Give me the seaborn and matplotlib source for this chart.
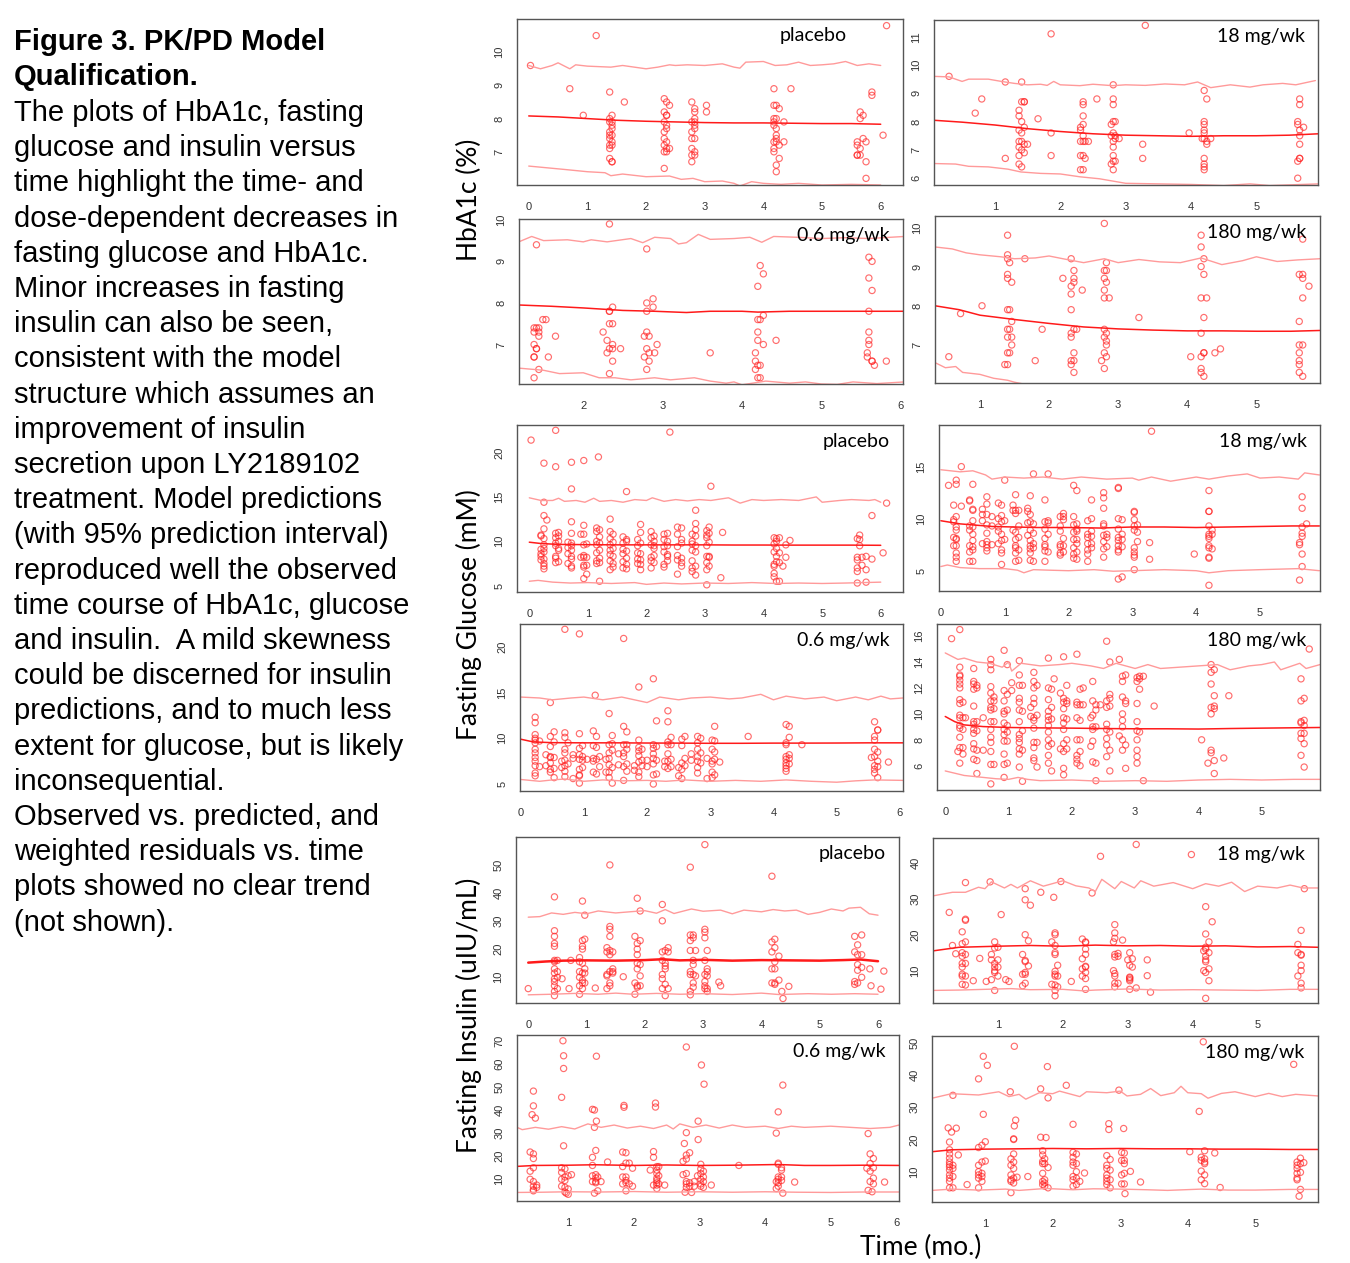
import pandas as pd
import matplotlib
matplotlib.use("Agg")
import matplotlib.pyplot as plt
import seaborn as sns

sns.set_style("white")
plt.rcParams['font.family'] = ['Liberation Sans', 'DejaVu Sans']

# ---------------- data: observed (visit time, [values]) and model lines (time, value) ----------------
# HbA1c placebo
a1c_pbo_obs = [(0.03, [9.6]), (0.7, [8.9]), (0.93, [8.1]), (1.15, [10.5]),
               (1.38, [8.8, 8.0, 7.9, 7.6, 7.5, 7.4, 7.2, 7.1, 6.8]),
               (1.42, [8.1, 7.9, 7.8, 7.7, 7.5, 7.3, 7.2, 6.7, 6.7]),
               (1.63, [8.5]),
               (2.31, [8.6, 8.2, 7.9, 7.6, 7.4, 7.2, 7.0, 6.5]),
               (2.35, [8.5, 8.1, 8.1, 7.8, 7.7, 7.3, 7.1, 7.0]),
               (2.4, [8.4, 7.1]),
               (2.78, [8.5, 7.9, 7.6, 7.4, 7.1, 6.9, 6.7]),
               (2.83, [8.3, 8.2, 8.0, 7.9, 7.8, 7.7, 7.4, 7.0, 6.9]),
               (3.03, [8.4, 8.2]),
               (4.18, [8.9, 8.4, 8.0, 7.9, 7.8, 7.3, 7.1, 7.0]),
               (4.22, [8.4, 8.0, 7.7, 7.5, 7.4, 7.3, 6.6, 6.4]),
               (4.27, [8.3, 7.2, 6.8]), (4.35, [7.9, 7.3]), (4.47, [8.9]),
               (5.6, [7.3, 7.2, 6.9, 6.9]), (5.65, [8.2, 8.0, 7.1, 6.9]),
               (5.7, [8.1, 7.4]), (5.75, [7.3, 6.7, 6.2]),
               (5.85, [8.8, 8.7]), (6.04, [7.5]), (6.1, [10.8])]
a1c_pbo_up = [(0.0, 9.6), (0.2, 9.5), (0.4, 9.6), (0.5, 9.68), (0.7, 9.5), (0.8, 9.62), (1.0, 9.58),
              (1.4, 9.55), (1.6, 9.6), (2.0, 9.5), (2.2, 9.55), (2.4, 9.62), (2.5, 9.6), (2.7, 9.62),
              (3.0, 9.6), (3.3, 9.65), (3.5, 9.55), (3.6, 9.52), (3.7, 9.7), (4.0, 9.72), (4.2, 9.6),
              (4.4, 9.62), (4.6, 9.7), (4.8, 9.6), (5.0, 9.62), (5.2, 9.65), (5.4, 9.72), (5.6, 9.6),
              (5.8, 9.65), (6.0, 9.6)]
a1c_pbo_mid = [(0.0, 8.08), (0.5, 8.05), (1.0, 8.0), (1.5, 7.95), (2.0, 7.92), (2.5, 7.9),
               (3.0, 7.88), (3.5, 7.87), (4.0, 7.87), (4.5, 7.86), (5.0, 7.85), (5.5, 7.85), (6.0, 7.83)]
a1c_pbo_lo = [(0.0, 6.57), (0.3, 6.52), (0.6, 6.47), (1.0, 6.4), (1.3, 6.37), (1.4, 6.28), (1.6, 6.33),
              (2.0, 6.25), (2.4, 6.27), (2.6, 6.17), (2.8, 6.2), (3.0, 6.1), (3.3, 6.12), (3.5, 6.05),
              (3.6, 5.97), (3.8, 6.1), (4.0, 6.05), (4.3, 6.02), (4.6, 6.05), (5.0, 6.0), (5.5, 6.02),
              (6.0, 6.0)]

# HbA1c 18 mg/wk
a1c_18_obs = [(0.3, [9.6]), (0.7, [8.3]), (0.8, [8.8]), (1.16, [9.4, 6.7]),
              (1.37, [8.4, 8.2, 7.7, 7.3, 7.1, 6.8, 6.5]),
              (1.41, [9.4, 8.7, 8.0, 7.6, 7.3, 7.0, 6.4]),
              (1.45, [8.7, 8.7, 7.8, 7.2, 6.9]), (1.5, [7.2]), (1.66, [8.1]),
              (1.86, [11.1, 7.6, 6.8]),
              (2.31, [7.8, 7.7, 7.3, 6.8, 6.3]), (2.35, [8.7, 8.6, 8.2, 7.9, 7.5, 7.3, 6.8, 6.3]),
              (2.38, [7.3, 6.7]), (2.43, [7.3]), (2.56, [8.8]),
              (2.78, [7.9, 7.5, 6.5]), (2.81, [9.3, 8.8, 8.6, 8.0, 7.6, 7.3, 7.1, 6.8, 6.6, 6.3]),
              (2.84, [8.0, 7.5, 7.4, 6.6]), (2.9, [7.4]),
              (3.26, [7.2, 6.7]), (3.3, [11.4]), (3.97, [7.6]),
              (4.17, [7.4]), (4.2, [9.1, 8.0, 7.9, 7.7, 7.6, 7.4, 6.7, 6.5, 6.4, 6.3]),
              (4.24, [8.8, 7.3, 7.2]), (4.3, [7.4]),
              (5.63, [8.0, 7.9, 6.6, 6.0]), (5.66, [8.8, 8.6, 7.7, 7.5, 7.2, 6.7, 6.7]), (5.72, [7.8])]
a1c_18_up = [(0.05, 9.6), (0.3, 9.58), (0.5, 9.42), (0.6, 9.5), (0.9, 9.5), (1.1, 9.42), (1.3, 9.35),
             (1.5, 9.3), (1.7, 9.32), (1.8, 9.28), (1.9, 9.42), (2.0, 9.3), (2.3, 9.27), (2.5, 9.32),
             (2.8, 9.27), (3.0, 9.3), (3.3, 9.28), (3.6, 9.33), (3.9, 9.3), (4.1, 9.4), (4.3, 9.2),
             (4.6, 9.3), (4.9, 9.22), (5.1, 9.3), (5.4, 9.35), (5.6, 9.3), (5.9, 9.45)]
a1c_18_mid = [(0.05, 8.05), (0.5, 7.98), (1.0, 7.88), (1.5, 7.75), (2.0, 7.65), (2.5, 7.57),
              (3.0, 7.52), (3.5, 7.5), (4.0, 7.48), (4.5, 7.5), (5.0, 7.5), (5.5, 7.52), (5.95, 7.57)]
a1c_18_lo = [(0.05, 6.52), (0.4, 6.5), (0.6, 6.42), (0.9, 6.4), (1.2, 6.32), (1.4, 6.22), (1.7, 6.17),
             (2.0, 6.15), (2.3, 6.05), (2.6, 5.98), (2.8, 5.9), (3.0, 5.82), (3.5, 5.8), (4.0, 5.78),
             (4.5, 5.74), (4.9, 5.8), (5.2, 5.74), (5.95, 5.8)]

# HbA1c 0.6 mg/wk
a1c_06_obs = [(1.38, [7.4, 7.3, 7.0, 6.7, 6.7, 6.2]), (1.41, [9.4, 7.4, 6.9, 6.9]),
              (1.44, [7.4, 7.3, 7.2, 6.4]), (1.49, [7.6]), (1.53, [7.6]), (1.56, [6.7]), (1.65, [7.2]),
              (2.25, [7.3]), (2.3, [7.1, 6.8]), (2.33, [9.9, 7.8, 7.8, 7.5, 6.9, 6.3]),
              (2.37, [7.9, 7.5, 7.0, 6.9, 6.6]), (2.47, [6.9]),
              (2.77, [7.2, 6.7]), (2.8, [9.3, 8.0, 7.8, 7.3, 6.9, 6.4]), (2.83, [7.2, 6.8, 6.6]),
              (2.88, [8.1, 7.9]), (2.9, [6.8]), (2.93, [7.0]), (3.6, [6.8]),
              (4.17, [6.8, 6.6, 6.4]), (4.2, [8.4, 7.6, 7.3, 7.1, 6.5, 6.2]),
              (4.23, [8.9, 7.6, 6.5, 6.2]), (4.27, [8.7, 7.7, 7.0]), (4.43, [7.1]),
              (5.58, [6.8, 6.7]), (5.6, [9.1, 8.6, 7.8, 7.3, 7.1, 7.0]), (5.64, [9.0, 8.3, 6.6, 6.6]),
              (5.67, [6.5]), (5.82, [6.6])]
a1c_06_up = [(1.2, 9.48), (1.35, 9.6), (1.5, 9.5), (1.8, 9.52), (2.0, 9.47), (2.1, 9.52), (2.3, 9.47),
             (2.6, 9.55), (2.75, 9.45), (2.9, 9.58), (3.1, 9.55), (3.2, 9.42), (3.3, 9.45),
             (3.45, 9.65), (3.6, 9.53), (3.9, 9.55), (4.1, 9.58), (4.25, 9.46), (4.4, 9.6),
             (4.7, 9.58), (5.0, 9.55), (5.3, 9.57), (5.6, 9.55), (6.05, 9.6)]
a1c_06_mid = [(1.2, 7.95), (1.6, 7.92), (2.0, 7.88), (2.5, 7.82), (2.9, 7.8), (3.3, 7.77),
              (3.6, 7.8), (4.0, 7.8), (4.2, 7.78), (4.6, 7.8), (5.0, 7.8), (5.5, 7.8), (6.05, 7.8)]
a1c_06_lo = [(1.2, 6.43), (1.5, 6.38), (1.7, 6.3), (2.0, 6.32), (2.2, 6.2), (2.4, 6.2), (2.6, 6.15),
             (2.9, 6.2), (3.1, 6.15), (3.4, 6.2), (3.6, 6.12), (3.8, 6.07), (3.9, 6.1), (4.0, 6.03),
             (4.3, 6.12), (4.6, 6.07), (4.8, 6.1), (5.0, 6.05), (5.2, 6.04), (5.4, 6.1), (5.7, 6.06),
             (6.05, 6.1)]

# HbA1c 180 mg/wk
a1c_180_obs = [(0.55, [6.7]), (0.72, [7.8]), (1.03, [8.0]), (1.36, [6.5]),
               (1.4, [9.8, 9.3, 9.2, 8.8, 8.7, 7.9, 7.4, 7.2, 6.8, 6.5]),
               (1.43, [9.1, 7.9, 7.4, 6.8]), (1.46, [8.6, 7.6, 7.2, 7.0]),
               (1.65, [9.2]), (1.8, [6.6]), (1.9, [7.4]), (2.2, [8.7]),
               (2.32, [9.2, 8.5, 8.3, 7.9, 7.3, 7.2, 6.6, 6.5]),
               (2.36, [8.9, 8.7, 8.6, 7.4, 6.8, 6.6, 6.3]), (2.4, [7.4]), (2.48, [8.4]),
               (2.76, [6.6]), (2.8, [10.1, 8.9, 8.7, 8.4, 8.2, 7.4, 7.2, 6.8, 6.4]),
               (2.83, [9.1, 8.9, 8.6, 7.3, 7.1, 7.0, 6.7]), (2.87, [8.2]), (3.3, [7.7]),
               (4.05, [6.7]), (4.2, [9.8, 9.5, 9.0, 8.2, 7.3, 6.7, 6.4, 6.3]),
               (4.24, [9.2, 8.8, 7.7, 6.8, 6.8, 6.2]), (4.28, [8.2]), (4.4, [6.8]), (4.48, [6.9]),
               (5.62, [8.8, 7.6, 7.0, 6.8, 6.6, 6.5, 6.3]), (5.67, [9.7, 8.8, 8.7, 8.2, 7.0, 6.2]),
               (5.76, [8.5])]
a1c_180_up = [(0.35, 9.5), (0.6, 9.45), (0.8, 9.35), (1.0, 9.3), (1.3, 9.25), (1.5, 9.2), (1.8, 9.22),
              (2.0, 9.27), (2.2, 9.2), (2.5, 9.1), (2.8, 9.2), (3.0, 9.1), (3.3, 9.18), (3.6, 9.12),
              (3.9, 9.1), (4.2, 9.22), (4.5, 9.05), (4.8, 9.15), (5.0, 9.25), (5.3, 9.13),
              (5.6, 9.17), (5.92, 9.2)]
a1c_180_mid = [(0.35, 8.0), (0.7, 7.9), (1.0, 7.76), (1.5, 7.65), (2.0, 7.55), (2.5, 7.46),
               (3.0, 7.41), (3.5, 7.38), (4.0, 7.36), (4.5, 7.36), (5.0, 7.35), (5.5, 7.35), (5.92, 7.37)]
a1c_180_lo = [(0.35, 6.55), (0.5, 6.42), (0.65, 6.45), (0.75, 6.3), (1.0, 6.25), (1.2, 6.15),
              (1.4, 6.1), (1.5, 6.05), (1.7, 5.98), (2.5, 5.9), (4.0, 5.9), (5.92, 5.9)]

# Fasting glucose placebo
glu_pbo_obs = [(0.03, [21.4]), (0.2, [10.7, 10.6, 9.1, 8.6, 8.3, 7.9]),
               (0.25, [18.8, 14.4, 12.9, 11.4, 10.3, 9.6, 9.2, 8.8, 8.0, 7.5, 7.2, 6.9]), (0.3, [12.4]),
               (0.45, [22.5, 18.4, 10.9, 10.4, 9.8, 9.5, 8.3, 8.1, 7.6]),
               (0.5, [11.0, 10.6, 10.0, 9.2, 9.0, 7.7]), (0.66, [9.9, 9.3, 8.6, 7.5]),
               (0.72, [18.9, 15.9, 12.2, 10.9, 9.8, 9.5, 9.0, 8.3, 8.0, 7.2, 7.0]), (0.88, [10.8, 8.2]),
               (0.93, [19.1, 11.8, 10.8, 9.6, 8.4, 8.2, 7.3, 7.1, 5.8]), (0.98, [9.7, 8.2, 7.3, 6.3]),
               (1.15, [11.5, 11.1, 10.0, 9.6, 8.7, 7.8, 7.5]),
               (1.18, [19.5]), (1.2, [11.3, 10.5, 9.8, 9.0, 8.1, 7.6, 5.5]),
               (1.38, [12.5, 11.1, 10.3, 9.6, 9.0, 8.5, 7.8, 6.8]), (1.43, [10.8, 9.9, 9.2, 8.3, 7.5, 7.1]),
               (1.6, [10.5, 9.8, 9.1, 8.6, 7.7, 7.0]), (1.66, [15.6, 10.2, 10.0, 8.9, 8.1, 7.4, 6.9]),
               (1.85, [10.2, 9.5, 8.7, 8.0, 7.5]), (1.9, [11.9, 11.0, 9.8, 8.6, 7.9, 7.4, 6.8]),
               (2.08, [11.1, 10.4, 9.6, 8.2, 7.8, 7.0]), (2.13, [10.6, 10.0, 9.5, 9.2, 8.4, 7.6]),
               (2.3, [10.8, 10.2, 9.4, 8.8, 7.4, 7.1]), (2.36, [10.9, 10.0, 9.5, 8.5, 8.3, 7.8]),
               (2.4, [22.3]), (2.53, [11.6, 10.8, 9.4, 8.4, 7.9, 6.3]), (2.6, [11.5, 10.2, 9.8, 8.1, 7.6, 7.2]),
               (2.78, [10.8, 10.0, 9.7, 9.0, 7.8, 7.0, 6.6]),
               (2.84, [13.5, 12.0, 11.3, 10.6, 9.5, 8.8, 7.2, 6.2]),
               (3.03, [11.2, 10.7, 10.4, 9.5, 8.3, 7.6, 6.8, 5.1]), (3.07, [11.6, 10.9, 9.9, 8.3, 8.2, 7.2]),
               (3.1, [16.2]), (3.27, [5.9]), (3.3, [11.0]),
               (4.18, [10.4, 9.7, 8.8, 7.4, 7.2, 6.4, 6.0]), (4.22, [10.3, 10.0, 9.2, 8.3, 7.7, 5.5]),
               (4.27, [10.4, 8.7, 7.6, 5.5]), (4.33, [7.2]), (4.38, [9.6, 8.2]), (4.45, [10.1]),
               (5.6, [10.3, 8.2, 7.9, 7.0, 6.6, 5.3]), (5.64, [10.2, 9.5, 10.7]), (5.68, [8.2, 7.3]),
               (5.75, [8.3, 6.8, 5.4]), (5.85, [8.0, 12.9]), (6.04, [8.7]), (6.1, [14.3])]
glu_pbo_up = [(0.0, 14.9), (0.2, 14.6), (0.4, 14.6), (0.5, 14.85), (0.6, 14.5), (0.8, 14.6),
              (0.95, 14.4), (1.1, 14.85), (1.2, 14.5), (1.4, 14.6), (1.6, 14.4), (1.8, 14.7),
              (2.0, 14.6), (2.1, 14.9), (2.3, 14.5), (2.5, 14.7), (2.7, 14.55), (2.9, 14.7),
              (3.1, 14.6), (3.4, 14.9), (3.6, 14.3), (3.8, 14.7), (4.0, 14.6), (4.3, 14.7),
              (4.6, 14.6), (4.9, 15.0), (5.0, 14.4), (5.3, 14.6), (5.5, 14.7), (5.8, 14.6),
              (5.9, 14.7), (6.0, 14.4)]
glu_pbo_mid = [(0.0, 9.9), (0.2, 9.75), (0.5, 9.65), (1.0, 9.62), (1.5, 9.6), (2.0, 9.6), (2.5, 9.6),
               (3.0, 9.6), (3.5, 9.58), (4.0, 9.58), (4.5, 9.57), (5.0, 9.57), (5.5, 9.57), (6.0, 9.55)]
glu_pbo_lo = [(0.0, 5.5), (0.15, 5.6), (0.4, 5.4), (0.7, 5.3), (1.0, 5.35), (1.4, 5.25), (1.8, 5.35),
              (2.0, 5.15), (2.3, 5.3), (2.6, 5.2), (3.0, 5.3), (3.4, 5.25), (3.8, 5.35), (4.2, 5.25),
              (4.6, 5.3), (5.0, 5.25), (5.4, 5.3), (6.0, 5.4)]

# Fasting glucose 18 mg/wk
glu_18_obs = [(0.12, [13.2]), (0.2, [11.3, 9.9, 9.7, 8.2, 7.4]),
              (0.24, [13.7, 13.3, 10.2, 9.2, 8.9, 8.1, 8.0, 7.4, 6.7, 6.3, 5.9]), (0.32, [15.0, 11.2]),
              (0.45, [11.8, 11.7, 9.3, 8.9, 7.4, 6.8, 5.9]),
              (0.5, [13.3, 10.9, 10.8, 9.8, 9.2, 8.5, 7.9, 7.3, 7.0, 5.9]),
              (0.65, [10.9, 10.4, 9.8, 7.6]), (0.72, [12.1, 11.4, 10.4, 9.4, 8.6, 7.8, 7.5, 7.2, 6.9]),
              (0.8, [10.2, 9.3, 7.5]), (0.9, [11.5, 10.0, 9.2, 8.8, 7.6]),
              (0.95, [11.3, 10.3, 9.7, 8.5, 7.9, 7.0, 6.7, 5.6]), (1.0, [13.7, 9.8, 8.0]),
              (1.13, [11.3, 10.8, 8.9]), (1.17, [12.3, 10.8, 10.5, 8.7, 8.0, 7.4, 7.2, 6.7, 5.9]),
              (1.22, [10.8, 9.3, 8.2, 7.0, 6.0]), (1.36, [11.0, 10.7, 9.6, 8.4]),
              (1.4, [12.2, 10.4, 9.7, 8.9, 7.9, 7.4, 7.1, 6.7, 6.0]), (1.45, [14.3, 9.5, 8.6, 7.6, 7.2, 5.9]),
              (1.63, [11.8, 9.7, 9.0, 8.1, 7.5, 7.3, 6.9, 5.9]), (1.68, [14.3, 9.8, 9.6, 8.5, 6.8]),
              (1.87, [10.2, 9.3, 8.8, 7.5, 7.3, 6.7, 6.5]), (1.92, [10.5, 10.2, 9.9, 8.1, 7.4, 6.8]),
              (2.08, [13.2, 10.2, 9.4, 8.7, 8.0, 7.2, 6.6, 6.2]), (2.13, [12.7, 9.5, 9.0, 8.8, 8.0, 7.6, 6.8, 6.1]),
              (2.3, [9.8, 8.5, 8.2, 7.6, 7.0, 6.6, 5.9]), (2.36, [11.8, 10.0, 8.8, 8.3, 7.6, 7.2]),
              (2.55, [12.5, 12.0, 11.0, 9.5, 9.3, 8.4, 7.8, 7.1, 6.3]), (2.6, [8.5, 8.2, 7.3]),
              (2.78, [13.0, 12.9, 10.0, 9.0, 8.2, 7.9, 7.4, 7.0, 6.8, 4.2]), (2.84, [9.9, 8.5, 8.0, 7.3, 4.4]),
              (3.03, [10.7, 10.6, 9.9, 9.3, 8.9, 7.2, 6.8, 6.5, 6.3, 5.1]), (3.08, [9.4, 8.7, 7.8]),
              (3.27, [7.7, 6.1]), (3.3, [18.4]), (3.97, [6.6]),
              (4.2, [12.7, 10.7, 10.7, 9.3, 8.5, 8.3, 8.1, 7.4, 7.2, 6.3, 6.2, 3.6]), (4.25, [8.9, 8.5, 7.1]),
              (5.62, [7.7, 7.5, 4.1]), (5.66, [12.1, 11.0, 9.2, 8.6, 8.3, 6.6, 5.4]), (5.73, [9.5])]
glu_18_up = [(0.0, 14.7), (0.3, 14.5), (0.5, 14.6), (0.7, 14.2), (0.8, 13.8), (1.0, 14.0), (1.3, 13.9),
             (1.6, 14.0), (1.9, 13.8), (2.2, 14.0), (2.6, 13.8), (3.0, 13.9), (3.1, 13.7), (3.3, 14.0),
             (3.6, 13.6), (4.0, 14.0), (4.2, 13.8), (4.5, 14.1), (4.8, 14.3), (5.0, 13.9), (5.3, 14.0),
             (5.6, 13.8), (5.7, 14.4), (5.93, 14.2)]
glu_18_mid = [(0.0, 9.8), (0.3, 9.5), (0.8, 9.25), (1.5, 9.15), (2.0, 9.15), (2.5, 9.1), (3.0, 9.2),
              (3.5, 9.2), (4.0, 9.15), (4.5, 9.2), (5.0, 9.25), (5.5, 9.3), (5.93, 9.3)]
glu_18_lo = [(0.0, 5.4), (0.1, 5.55), (0.3, 5.3), (0.6, 5.2), (1.0, 5.2), (1.2, 5.05), (1.3, 4.8),
             (1.45, 5.1), (1.7, 5.05), (2.0, 5.0), (2.4, 5.1), (2.7, 4.95), (3.0, 5.0), (3.5, 5.1),
             (4.0, 5.0), (4.2, 4.8), (4.5, 5.0), (5.0, 5.1), (5.6, 5.2), (5.93, 5.0)]

# Fasting glucose 0.6 mg/wk
glu_06_obs = [(0.23, [12.3, 11.7, 10.4, 10.0, 9.8, 9.5, 8.8, 8.4, 7.9, 7.5, 7.0, 6.2, 5.9]),
              (0.3, [9.7, 6.9]), (0.4, [8.2, 7.0]), (0.47, [13.9, 10.2, 9.1, 8.0, 7.9, 7.3, 6.6, 6.3]),
              (0.53, [10.7, 9.6, 7.9, 6.7, 5.7]), (0.65, [6.8, 7.5]),
              (0.7, [21.9, 10.6, 10.1, 8.8, 8.4, 7.6, 7.0, 6.4, 5.8]), (0.75, [9.5, 7.2]),
              (0.83, [7.8, 5.6, 8.2]), (0.93, [21.4, 10.5, 8.9, 8.2, 7.7, 6.6, 6.0, 5.9, 5.1]),
              (0.98, [9.2, 8.0, 7.6, 6.8]), (1.05, [7.7]),
              (1.15, [10.8, 9.2, 7.8, 7.5, 6.3]), (1.18, [14.7]), (1.2, [10.2, 9.0, 7.7, 6.1]), (1.25, [8.0, 6.9]),
              (1.35, [6.3, 7.7]), (1.4, [12.7, 9.3, 8.4, 7.8, 7.1, 6.3, 5.7]), (1.45, [10.3, 9.4, 8.7, 6.8, 5.1]),
              (1.55, [8.3, 7.1]), (1.63, [20.9, 11.3, 9.3, 8.4, 8.0, 6.9, 5.4]), (1.68, [10.7, 9.3, 8.8, 7.2, 6.4]),
              (1.8, [7.0, 6.5]), (1.87, [15.6, 9.8, 9.0, 8.6, 8.1, 7.4, 6.3, 5.8]), (1.92, [8.8, 7.6, 7.0]),
              (2.0, [6.9, 7.6]), (2.1, [16.5, 9.3, 8.9, 8.3, 7.8, 7.2, 6.0, 5.0]), (2.15, [11.9, 9.1, 7.6, 6.1]),
              (2.28, [6.9, 7.5]), (2.33, [13.0, 11.8, 9.6, 9.3, 8.3, 7.5, 6.7]), (2.38, [10.1, 9.3, 7.7, 6.9]),
              (2.5, [6.8, 5.9]), (2.55, [9.9, 9.2, 7.3, 6.6, 5.6]), (2.6, [10.2, 7.8, 7.0]), (2.7, [8.3, 7.6]),
              (2.8, [10.2, 9.5, 8.8, 8.0, 7.5, 6.8, 6.2]), (2.85, [10.0, 8.4, 7.3]), (2.95, [7.8, 5.6]),
              (3.03, [9.8, 8.8, 7.5, 7.2, 6.3, 5.7]), (3.07, [11.3, 9.7, 8.5, 7.7, 6.0]), (3.15, [7.4]),
              (3.6, [10.2]), (4.2, [11.5, 9.5, 9.3, 8.0, 7.7, 7.3, 7.0, 6.7, 6.4]),
              (4.25, [11.3, 10.1, 8.2, 7.8, 7.2]), (4.45, [9.3]), (5.55, [7.9]),
              (5.6, [11.8, 10.2, 9.8, 8.8, 8.0, 7.0, 6.6, 6.2]), (5.65, [10.9, 10.9, 8.5, 7.5, 6.9, 5.7]),
              (5.82, [7.4])]
glu_06_up = [(0.0, 14.5), (0.3, 14.4), (0.5, 14.2), (0.8, 14.4), (1.0, 14.5), (1.3, 14.2), (1.6, 14.5),
             (1.8, 14.2), (2.0, 13.9), (2.2, 14.5), (2.5, 14.2), (2.7, 14.4), (3.0, 14.5), (3.3, 14.3),
             (3.5, 14.4), (3.8, 14.8), (4.0, 14.2), (4.2, 14.6), (4.5, 14.3), (4.8, 14.5), (5.0, 14.1),
             (5.3, 14.5), (5.5, 14.2), (5.7, 14.6), (5.85, 14.3), (6.05, 14.4)]
glu_06_mid = [(0.0, 9.9), (0.2, 9.6), (0.5, 9.52), (1.0, 9.5), (1.5, 9.5), (2.0, 9.48), (2.5, 9.47),
              (3.0, 9.45), (3.5, 9.45), (4.0, 9.47), (4.5, 9.47), (5.0, 9.48), (5.5, 9.5), (6.05, 9.5)]
glu_06_lo = [(0.0, 5.5), (0.3, 5.3), (0.5, 5.45), (0.7, 5.55), (1.0, 5.3), (1.3, 5.45), (1.6, 5.35),
             (2.0, 5.4), (2.3, 5.3), (2.6, 5.45), (3.0, 5.3), (3.4, 5.4), (3.8, 5.3), (4.2, 5.45),
             (4.6, 5.3), (5.0, 5.2), (5.3, 5.35), (5.6, 5.45), (6.05, 5.4)]

# Fasting glucose 180 mg/wk
glu_180_obs = [(0.1, [15.8]), (0.2, [7.1]),
               (0.23, [16.5, 13.6, 13.0, 12.9, 12.6, 12.3, 12.0, 11.1, 10.8, 9.9, 9.7, 9.1, 8.9, 8.2, 7.4, 6.2]),
               (0.28, [10.9, 9.7, 8.8, 7.4, 6.9]), (0.32, [9.7]),
               (0.45, [13.5, 12.5, 12.3, 11.9, 10.6, 9.4, 9.2, 8.8, 8.5, 7.7, 7.3, 6.5]),
               (0.5, [12.2, 12.0, 9.4, 8.7, 7.2, 6.4, 5.4]), (0.6, [9.7, 7.2]),
               (0.72, [14.2, 13.8, 13.4, 12.1, 11.6, 11.0, 10.5, 10.3, 9.4, 8.8, 8.2, 7.8, 7.1, 6.1, 4.6]),
               (0.77, [11.3, 11.0, 10.4, 9.4, 6.1]),
               (0.93, [14.9, 11.8, 11.0, 10.2, 10.0, 9.3, 8.8, 8.4, 7.9, 6.9, 6.1, 5.1]),
               (0.98, [13.8, 11.5, 10.3, 9.1, 8.6, 7.9, 6.2]), (1.05, [12.4, 11.8]),
               (1.17, [14.1, 13.0, 12.2, 11.2, 10.9, 10.3, 9.4, 8.4, 8.1, 7.8, 7.3, 6.9, 5.9]),
               (1.22, [12.2, 10.2, 8.7, 7.2, 4.8]), (1.35, [10.5, 9.8]),
               (1.4, [13.2, 12.5, 12.0, 11.2, 10.8, 9.7, 9.5, 8.9, 7.8, 7.4, 6.6, 6.4]),
               (1.45, [12.2, 9.9, 7.8, 5.9]),
               (1.63, [14.3, 12.0, 11.1, 10.2, 9.8, 9.5, 9.1, 8.6, 8.0, 7.5, 6.8, 6.2]),
               (1.68, [11.9, 10.5, 9.6, 7.7, 5.6]), (1.72, [12.7]), (1.82, [11.6, 7.3]),
               (1.87, [14.4, 11.2, 10.9, 10.4, 9.7, 9.3, 8.8, 7.7, 7.1, 5.8, 5.3]),
               (1.92, [12.2, 11.0, 10.8, 9.6, 8.0, 7.3]),
               (2.08, [14.6, 10.9, 10.7, 9.7, 8.0, 6.8, 6.5, 6.2]), (2.13, [11.9, 10.7, 9.5, 8.0, 7.1, 6.0]),
               (2.18, [12.0, 10.7]), (2.3, [9.7, 7.5]), (2.33, [12.5, 11.0, 9.9, 9.0, 8.8, 7.9, 6.3]),
               (2.38, [10.7, 10.3, 9.0, 6.2, 4.85]), (2.45, [10.7]),
               (2.55, [15.6, 11.0, 10.5, 9.2, 8.8, 8.1, 7.6, 6.7]), (2.6, [14.0, 11.5, 11.2, 10.6, 8.6, 7.2, 5.6]),
               (2.75, [14.2, 8.3]), (2.8, [12.9, 12.5, 11.3, 10.0, 9.5, 9.0, 8.0, 7.2]),
               (2.85, [13.0, 11.0, 10.8, 7.6, 5.8]),
               (3.03, [12.8, 12.5, 10.8, 9.4, 8.7, 8.0, 7.2, 6.7, 6.2]), (3.07, [12.9, 12.7, 11.9, 8.6]),
               (3.13, [12.9, 4.85]), (3.3, [10.6]), (4.05, [8.0]), (4.15, [6.2]),
               (4.2, [13.8, 13.2, 12.3, 10.5, 10.0, 7.2, 7.0]), (4.25, [13.4, 11.4, 10.6, 10.4, 6.4, 5.4]),
               (4.4, [6.6]), (4.48, [11.4]),
               (5.62, [12.7, 11.0, 9.4, 9.3, 8.5, 8.1, 6.8]), (5.67, [11.2, 9.5, 9.1, 8.5, 7.7, 5.9]),
               (5.75, [15.0])]
glu_180_up = [(0.0, 14.7), (0.2, 14.2), (0.3, 14.3), (0.5, 14.0), (0.7, 13.9), (0.9, 13.6), (1.0, 14.0),
              (1.05, 13.3), (1.2, 13.9), (1.5, 13.7), (1.8, 13.8), (2.0, 13.9), (2.3, 13.7), (2.5, 13.5),
              (2.7, 13.9), (3.0, 13.5), (3.2, 13.8), (3.4, 13.5), (3.7, 13.6), (4.0, 13.7), (4.3, 13.8),
              (4.5, 13.4), (4.8, 13.7), (5.0, 13.8), (5.2, 14.0), (5.3, 13.4), (5.6, 13.9), (5.7, 13.5),
              (5.92, 13.8)]
glu_180_mid = [(0.0, 9.8), (0.15, 9.4), (0.3, 9.15), (0.6, 9.02), (1.0, 8.95), (1.5, 8.92), (2.0, 8.9),
               (2.5, 8.87), (3.0, 8.85), (3.5, 8.85), (4.0, 8.83), (4.5, 8.87), (5.0, 8.9), (5.92, 8.95)]
glu_180_lo = [(0.0, 5.6), (0.3, 5.25), (0.5, 5.15), (0.8, 5.0), (1.0, 4.95), (1.15, 5.1), (1.3, 4.95),
              (1.5, 4.85), (2.0, 4.9), (2.5, 4.8), (3.0, 4.85), (3.5, 4.8), (4.0, 4.9), (4.5, 4.95),
              (5.0, 4.9), (5.5, 4.95), (5.92, 4.95)]

# Fasting insulin placebo
ins_pbo_obs = [(0.0, [6.0]), (0.45, [38.5, 26.5, 24.5, 22.0, 21.0, 16.0, 15.5, 13.0, 11.5, 9.5, 8.5, 7.0, 5.0, 3.5]),
               (0.5, [16.0, 12.0, 10.0, 6.0]), (0.58, [9.5]), (0.7, [6.0]), (0.73, [16.0]),
               (0.88, [17.0, 15.5, 12.0, 10.0, 7.0, 4.0]), (0.93, [37.0, 23.0, 21.0, 20.0, 15.0, 11.5, 9.0, 8.0, 6.0]),
               (0.97, [32.0, 23.5, 13.0, 11.5, 8.0]), (1.15, [6.2]),
               (1.35, [20.5, 19.0, 11.0, 10.5, 6.0]), (1.4, [49.8, 28.0, 27.0, 24.5, 19.5, 18.0, 12.0, 8.0, 7.0]),
               (1.45, [19.0, 13.0, 12.0, 11.5]), (1.63, [10.2]),
               (1.83, [24.5, 8.0, 4.0]), (1.87, [38.0, 22.0, 20.0, 18.0, 15.0, 13.0, 7.0, 6.5]),
               (1.92, [33.5, 23.0, 14.5, 10.5, 7.0]),
               (2.3, [35.8, 30.0, 19.0, 16.0, 11.0, 9.5, 6.0]), (2.35, [19.5, 15.0, 14.0, 13.0, 7.5, 3.5]),
               (2.4, [20.5, 19.0, 6.0]),
               (2.78, [49.0, 25.0, 23.0, 19.5, 12.0, 11.0, 5.0, 3.8]), (2.83, [25.0, 24.0, 16.0, 14.5, 11.0, 8.0, 6.5]),
               (2.87, [19.5, 10.5]), (3.03, [57.0, 27.0, 26.0, 24.0, 16.0, 11.0, 8.5, 7.0, 6.0]),
               (3.07, [19.5, 13.0, 12.0, 10.5, 6.0, 5.0]), (3.27, [8.3]), (3.3, [7.0]),
               (4.18, [45.8, 22.5, 19.0, 13.0, 8.0]), (4.23, [23.5, 20.5, 15.5, 13.0, 8.0, 7.5]),
               (4.3, [17.5, 9.0]), (4.35, [5.0]), (4.37, [2.5]), (4.47, [6.8]),
               (5.6, [24.5, 19.0, 8.5, 7.5]), (5.65, [21.5, 18.0, 14.5, 12.5, 8.0]),
               (5.72, [25.0, 18.0, 13.5, 10.0]), (5.86, [13.0]), (5.88, [7.0]), (6.05, [5.8]), (6.1, [12.2])]
ins_pbo_up = [(0.0, 31.3), (0.2, 31.5), (0.4, 32.8), (0.6, 32.3), (0.8, 33.0), (1.0, 32.5), (1.2, 33.5),
              (1.5, 32.8), (1.8, 33.3), (2.0, 33.6), (2.2, 32.7), (2.35, 34.0), (2.5, 32.6), (2.8, 34.2),
              (3.0, 33.4), (3.3, 33.8), (3.5, 32.5), (3.7, 33.8), (4.0, 33.2), (4.2, 34.0), (4.4, 33.5),
              (4.6, 33.8), (4.8, 32.3), (5.0, 33.0), (5.2, 34.2), (5.4, 33.5), (5.5, 34.5), (5.7, 34.8),
              (5.85, 32.5), (6.0, 32.0)]
ins_pbo_mid = [(0.0, 15.2), (0.3, 15.6), (0.6, 15.9), (1.0, 16.0), (1.5, 15.9), (2.0, 16.1), (2.3, 16.4),
               (2.6, 16.0), (3.0, 16.2), (3.5, 15.9), (4.0, 16.1), (4.5, 16.0), (5.0, 15.9), (5.4, 16.1),
               (5.7, 16.3), (6.0, 15.7)]
ins_pbo_lo = [(0.0, 3.8), (0.4, 4.0), (0.8, 4.3), (1.2, 4.0), (1.5, 4.4), (1.8, 4.0), (2.2, 4.3),
              (2.6, 4.0), (3.0, 4.2), (3.5, 3.9), (4.0, 4.4), (4.3, 3.9), (4.8, 4.2), (5.2, 4.0),
              (5.6, 4.2), (6.0, 4.0)]

# Fasting insulin 18 mg/wk
ins_18_obs = [(0.25, [26.2]), (0.3, [17.0]), (0.35, [14.7]),
              (0.45, [20.8, 17.5, 15.0, 14.0, 12.0, 11.0, 9.0, 8.5, 6.2]),
              (0.5, [34.5, 24.3, 24.0, 18.0, 14.5, 12.0, 8.5, 6.0]), (0.62, [7.2]), (0.72, [13.4]), (0.82, [7.0]),
              (0.88, [34.7]), (0.9, [14.5, 13.0, 7.5]), (0.95, [18.0, 16.3, 12.0, 11.0, 10.0, 9.5, 4.5]),
              (1.0, [16.5, 13.0, 11.0, 8.5]), (1.05, [25.6]), (1.12, [7.5]), (1.17, [7.0]),
              (1.38, [14.5, 9.0, 5.8]), (1.42, [32.8, 29.7, 20.0, 12.8, 12.5, 9.5, 9.0, 6.5]),
              (1.47, [18.3, 11.3]), (1.5, [28.2]), (1.66, [31.8]),
              (1.83, [18.0, 6.2]), (1.86, [30.4]), (1.88, [20.5, 20.0, 17.0, 15.0, 14.5, 9.8, 9.0, 8.5, 6.0, 4.5, 3.0]),
              (1.92, [11.5, 8.5, 5.5]), (1.97, [34.8]), (2.13, [7.0]),
              (2.3, [18.8, 13.3, 10.5, 8.5]), (2.35, [18.0, 17.8, 16.0, 14.5, 11.2, 11.0, 9.5, 7.8, 4.8]),
              (2.45, [31.6]), (2.58, [41.8]),
              (2.78, [18.0, 10.0]), (2.8, [22.8, 20.5, 19.0, 14.5, 13.8, 9.2, 8.5, 6.5, 5.5]),
              (2.85, [14.8, 14.0, 6.5]), (2.92, [18.5]), (3.0, [13.0]),
              (3.03, [15.0, 11.5, 8.2, 8.0, 7.6, 7.2, 4.8]), (3.07, [13.3, 11.0]), (3.13, [45.1, 5.2]),
              (3.3, [13.0, 8.6]), (3.35, [4.0]), (3.98, [42.3]),
              (4.17, [15.5, 10.0]), (4.2, [27.8, 20.2, 16.5, 16.0, 14.0, 13.0, 12.5, 9.5, 2.3]),
              (4.25, [18.0, 15.0, 10.5, 7.2]), (4.3, [23.6]),
              (5.62, [17.3, 15.0, 8.5]), (5.67, [21.2, 14.5, 14.3, 11.5, 10.0, 6.5, 5.2]), (5.72, [32.8])]
ins_18_up = [(0.0, 30.8), (0.3, 31.8), (0.5, 31.8), (0.7, 33.2), (0.8, 32.8), (0.9, 34.7), (1.1, 33.0),
             (1.2, 34.0), (1.3, 33.0), (1.5, 35.0), (1.7, 33.5), (2.0, 35.0), (2.2, 33.6), (2.4, 33.0),
             (2.5, 32.0), (2.6, 35.4), (2.8, 32.8), (2.9, 34.8), (3.1, 33.0), (3.2, 35.0), (3.4, 33.5),
             (3.7, 34.5), (4.0, 32.8), (4.2, 34.2), (4.4, 33.5), (4.6, 34.6), (4.8, 32.0), (5.0, 33.5),
             (5.3, 33.0), (5.5, 33.8), (5.7, 33.0), (5.93, 33.0)]
ins_18_mid = [(0.0, 15.5), (0.4, 16.5), (1.0, 16.8), (1.5, 17.0), (2.0, 16.8), (2.5, 17.1), (3.0, 16.9),
              (3.5, 17.0), (4.0, 16.8), (4.5, 16.9), (5.0, 16.6), (5.5, 16.7), (5.93, 16.5)]
ins_18_lo = [(0.0, 4.5), (0.4, 4.6), (0.8, 4.8), (1.2, 5.0), (1.5, 4.7), (2.0, 4.8), (2.3, 4.4),
             (2.5, 4.6), (3.0, 4.9), (3.5, 4.6), (4.0, 4.7), (4.5, 4.6), (5.0, 4.5), (5.5, 4.8), (5.93, 4.8)]

# Fasting insulin 0.6 mg/wk
ins_06_obs = [(0.42, [21.8, 13.5, 10.0]), (0.45, [38.0]), (0.47, [48.2, 41.8, 21.0, 19.0, 15.0, 9.0, 7.0, 5.5, 5.0]),
              (0.5, [36.5]), (0.52, [7.5, 6.5]), (0.9, [45.5, 15.0, 13.0, 10.0, 7.0]),
              (0.92, [70.0]), (0.93, [63.5, 58.0, 24.5]), (0.95, [14.5, 11.0, 9.5, 6.5, 4.5]),
              (0.97, [4.0]), (1.0, [11.5, 5.8, 3.5]), (1.05, [12.0]),
              (1.37, [40.3, 19.5, 16.0, 11.5, 9.0]), (1.4, [40.0, 32.5, 4.0]),
              (1.42, [22.5, 12.0, 10.5, 9.0, 8.5]), (1.43, [63.3, 35.2]), (1.45, [11.0, 5.0]),
              (1.5, [9.0]), (1.6, [17.5]),
              (1.83, [21.8, 15.5, 11.0, 8.0]), (1.85, [42.0, 41.2]), (1.88, [21.5, 17.0, 11.0, 9.5, 8.5, 5.0]),
              (1.93, [17.0, 8.0]), (1.98, [14.8, 7.0]), (2.25, [14.0]),
              (2.3, [22.0, 19.5, 7.5]), (2.33, [43.0, 41.3]), (2.35, [15.5, 14.0, 12.5, 10.5, 9.5, 8.5, 7.5, 6.0]),
              (2.38, [15.5, 11.5, 8.0]), (2.47, [7.5]),
              (2.75, [17.8, 12.0]), (2.77, [25.5]), (2.78, [4.4]), (2.8, [67.3, 30.2, 20.5, 18.8, 12.5, 9.0, 8.0, 6.5]),
              (2.85, [21.5, 8.5, 7.0]), (2.88, [4.3]), (2.92, [9.0, 7.0]), (2.97, [11.5]),
              (2.98, [35.2, 27.2]), (3.02, [16.5, 14.5, 12.5, 10.0, 8.0, 7.0]), (3.03, [59.5]),
              (3.06, [13.5, 11.0, 9.0, 6.5]), (3.07, [51.2]), (3.18, [7.5]), (3.6, [16.0]),
              (4.17, [30.0, 9.0, 6.0]), (4.2, [39.2, 17.0, 16.5, 11.0, 10.0, 8.5, 7.0]),
              (4.25, [15.0, 14.0, 11.0, 9.5]), (4.27, [50.8, 4.0]), (4.45, [8.8]),
              (5.55, [14.8]), (5.57, [29.8, 5.2]), (5.6, [21.0, 16.8, 13.5, 9.0]),
              (5.63, [4.6]), (5.65, [19.0, 15.0, 10.5, 8.0]), (5.82, [8.8])]
ins_06_up = [(0.22, 32.5), (0.3, 31.5), (0.5, 32.5), (0.7, 31.7), (0.9, 32.8), (1.1, 31.8), (1.3, 34.0),
             (1.5, 32.5), (1.7, 33.5), (1.9, 32.2), (2.1, 33.0), (2.3, 32.0), (2.5, 33.5), (2.6, 31.8),
             (2.7, 34.0), (2.9, 32.5), (3.1, 33.5), (3.3, 32.2), (3.5, 33.5), (3.7, 32.5), (4.0, 33.0),
             (4.2, 32.0), (4.4, 33.0), (4.6, 32.5), (5.0, 33.0), (5.3, 32.5), (5.6, 32.0), (5.9, 32.5),
             (6.04, 33.5)]
ins_06_mid = [(0.22, 15.6), (0.5, 16.0), (1.0, 16.1), (1.4, 16.3), (2.0, 16.0), (2.5, 16.2), (3.0, 16.0),
              (3.5, 16.1), (4.2, 16.4), (4.6, 16.0), (5.0, 16.0), (5.5, 16.1), (6.04, 16.0)]
ins_06_lo = [(0.22, 4.3), (0.6, 4.4), (1.0, 4.6), (1.5, 4.5), (2.0, 4.7), (2.5, 4.4), (3.0, 4.6),
             (3.5, 4.4), (4.0, 4.6), (4.5, 4.4), (5.0, 4.3), (5.5, 4.5), (6.04, 4.5)]

# Fasting insulin 180 mg/wk
ins_180_obs = [(0.45, [23.6]), (0.47, [19.2, 16.8, 15.5, 14.2, 13.0, 12.2, 11.5, 10.5, 9.0, 8.0, 7.0, 5.0]),
               (0.5, [22.3]), (0.52, [33.7, 12.0, 11.0, 8.5, 5.0]), (0.57, [23.5]), (0.6, [15.2]), (0.73, [6.0]),
               (0.9, [38.8, 17.5, 12.0, 10.0, 9.0, 8.0, 5.0]), (0.95, [18.2, 13.0, 9.5, 8.5, 7.0]),
               (0.97, [45.8, 27.8]), (1.0, [19.3, 13.3]), (1.03, [43.0]),
               (1.37, [34.8]), (1.38, [14.0, 12.0, 9.0, 7.5, 7.0, 3.5]),
               (1.42, [20.2, 20.0, 15.5, 13.0, 11.0, 8.0, 6.5]), (1.43, [48.9, 24.2]), (1.45, [26.0]),
               (1.47, [8.3]), (1.63, [8.5]),
               (1.82, [35.7, 20.7]), (1.85, [16.5, 15.2, 13.2, 12.5, 9.5, 7.0, 6.0]),
               (1.88, [14.0, 12.5, 7.5, 6.5, 5.5]), (1.9, [20.6]), (1.92, [42.6]), (1.93, [32.9, 11.3, 5.0]),
               (2.2, [36.8]), (2.3, [24.7, 16.0, 14.5, 13.0, 12.0, 8.5, 7.5, 5.5]),
               (2.35, [15.5, 12.5, 10.0, 8.0, 6.0]), (2.4, [7.0]), (2.47, [9.6]),
               (2.8, [15.0, 12.0, 11.0, 9.0, 8.0, 7.0, 6.0]), (2.83, [24.9, 23.1]),
               (2.85, [13.8, 10.5, 7.5, 5.0]), (2.98, [35.3]),
               (3.02, [16.0, 13.5, 9.0, 6.2]), (3.05, [23.4]), (3.06, [15.8, 13.5, 12.5, 9.5, 6.2]),
               (3.07, [3.2]), (3.15, [10.1]), (3.3, [6.8]), (4.03, [16.2]), (4.17, [28.7]),
               (4.2, [14.5, 13.5, 10.2, 7.5]), (4.23, [50.3]), (4.25, [16.5, 14.0, 13.0, 12.5, 9.0, 6.3]),
               (4.4, [15.8]), (4.48, [5.1]), (5.57, [43.3]),
               (5.62, [13.0, 12.0, 11.0, 9.5, 8.0, 7.5]), (5.65, [2.4]), (5.67, [14.2, 12.5, 9.8, 4.5]),
               (5.72, [12.8])]
ins_180_up = [(0.21, 32.8), (0.5, 34.2), (0.9, 33.8), (1.2, 34.8), (1.35, 33.3), (1.5, 34.0), (1.6, 32.5),
              (1.8, 34.5), (2.0, 34.2), (2.1, 35.0), (2.4, 33.3), (2.5, 34.8), (2.8, 34.5), (3.0, 35.0),
              (3.1, 33.5), (3.3, 34.0), (3.45, 35.8), (3.6, 33.6), (3.8, 34.5), (3.9, 36.5), (4.0, 34.5),
              (4.2, 34.2), (4.3, 32.8), (4.5, 34.3), (4.7, 34.8), (5.0, 33.3), (5.2, 34.3), (5.4, 33.3),
              (5.6, 34.0), (5.93, 33.5)]
ins_180_mid = [(0.21, 16.2), (0.5, 16.8), (1.0, 17.0), (1.5, 17.1), (2.0, 17.2), (2.5, 17.1), (3.0, 17.2),
               (3.5, 17.1), (4.0, 17.1), (4.5, 17.0), (5.0, 17.0), (5.5, 16.9), (5.93, 16.9)]
ins_180_lo = [(0.21, 4.2), (0.5, 4.6), (0.9, 4.3), (1.3, 4.6), (1.5, 4.2), (1.9, 4.8), (2.3, 4.4),
              (2.6, 4.7), (3.0, 4.6), (3.4, 4.4), (3.7, 4.2), (4.2, 4.6), (4.6, 4.3), (5.0, 4.3),
              (5.5, 4.5), (5.93, 4.5)]

caption_title = ["Figure 3. PK/PD Model", "Qualification."]
caption_body = [
    "The plots of HbA1c, fasting", "glucose and insulin versus", "time highlight the time- and",
    "dose-dependent decreases in", "fasting glucose and HbA1c.", "Minor increases in fasting",
    "insulin can also be seen,", "consistent with the model", "structure which assumes an",
    "improvement of insulin", "secretion upon LY2189102", "treatment. Model predictions",
    "(with 95% prediction interval)", "reproduced well the observed", "time course of HbA1c, glucose",
    "and insulin.  A mild skewness", "could be discerned for insulin", "predictions, and to much less",
    "extent for glucose, but is likely", "inconsequential.", "Observed vs. predicted, and",
    "weighted residuals vs. time", "plots showed no clear trend", "(not shown)."]

# panel: obs, upper, median, lower, label, xlim, ylim, xticks, yticks, pixel box (l, t, r, b)
panels = [
    (a1c_pbo_obs, a1c_pbo_up, a1c_pbo_mid, a1c_pbo_lo, "placebo", (-0.2, 6.38), (6.0, 11.0),
     range(0, 7), range(7, 11), (517, 19, 903, 185)),
    (a1c_18_obs, a1c_18_up, a1c_18_mid, a1c_18_lo, "18 mg/wk", (0.07, 5.94), (5.76, 11.59),
     range(1, 6), range(6, 12), (934, 20, 1318, 185)),
    (a1c_06_obs, a1c_06_up, a1c_06_mid, a1c_06_lo, "0.6 mg/wk", (1.19, 6.03), (6.05, 10.02),
     range(2, 7), range(7, 11), (519, 219, 903, 384)),
    (a1c_180_obs, a1c_180_up, a1c_180_mid, a1c_180_lo, "180 mg/wk", (0.35, 5.92), (6.03, 10.29),
     range(1, 6), range(7, 11), (935, 216, 1320, 383)),
    (glu_pbo_obs, glu_pbo_up, glu_pbo_mid, glu_pbo_lo, "placebo", (-0.21, 6.38), (4.29, 23.1),
     range(0, 7), range(5, 21, 5), (517, 425, 903, 592)),
    (glu_18_obs, glu_18_up, glu_18_mid, glu_18_lo, "18 mg/wk", (-0.03, 5.94), (3.05, 19.0),
     range(0, 6), range(5, 16, 5), (939, 425, 1320, 591)),
    (glu_06_obs, glu_06_up, glu_06_mid, glu_06_lo, "0.6 mg/wk", (-0.01, 6.05), (4.24, 22.48),
     range(0, 7), range(5, 21, 5), (520, 624, 903, 791)),
    (glu_180_obs, glu_180_up, glu_180_mid, glu_180_lo, "180 mg/wk", (-0.13, 5.92), (4.13, 16.93),
     range(0, 6), range(6, 17, 2), (937, 624, 1320, 790)),
    (ins_pbo_obs, ins_pbo_up, ins_pbo_mid, ins_pbo_lo, "placebo", (-0.21, 6.36), (0.9, 59.7),
     range(0, 7), range(10, 51, 10), (516, 837, 899, 1003)),
    (ins_18_obs, ins_18_up, ins_18_mid, ins_18_lo, "18 mg/wk", (0.0, 5.93), (1.0, 46.9),
     range(1, 6), range(10, 41, 10), (933, 838, 1318, 1003)),
    (ins_06_obs, ins_06_up, ins_06_mid, ins_06_lo, "0.6 mg/wk", (0.22, 6.04), (0.6, 72.5),
     range(1, 7), range(10, 71, 10), (517, 1035, 899, 1201)),
    (ins_180_obs, ins_180_up, ins_180_mid, ins_180_lo, "180 mg/wk", (0.21, 5.93), (0.6, 52.1),
     range(1, 6), range(10, 51, 10), (932, 1036, 1318, 1202)),
]

W, H = 1350, 1263
fig = plt.figure(figsize=(W / 100, H / 100), dpi=100)


def obs_frame(obs):
    rows = [(t, v) for t, vals in obs for v in vals]
    return pd.DataFrame(rows, columns=['time', 'value'])


def line_frame(pts):
    return pd.DataFrame(pts, columns=['time', 'value'])


for i, (obs, up, mid, lo, label, xlim, ylim, xt, yt, box) in enumerate(panels):
    l, t, r, b = box
    ax = fig.add_axes([l / W, 1 - b / H, (r - l) / W, (b - t) / H])
    for pts, col, lw in [(up, '#ff9a9a', 1.0), (lo, '#ff9a9a', 1.0),
                         (mid, '#ff1a1a', 1.8 if i == 8 else 1.1)]:
        sns.lineplot(data=line_frame(pts), x='time', y='value', ax=ax, color=col,
                     linewidth=lw, estimator=None, sort=False)
    sns.scatterplot(data=obs_frame(obs), x='time', y='value', ax=ax, marker='o', s=20,
                    facecolor='none', edgecolor='#ff2020', linewidth=0.85, alpha=0.65)
    ax.set_xlim(*xlim)
    ax.set_ylim(*ylim)
    ax.set_xticks(list(xt))
    ax.set_yticks(list(yt))
    ax.set_xlabel('')
    ax.set_ylabel('')
    for sp in ax.spines.values():
        sp.set_color('#555555')
        sp.set_linewidth(1.0)
    ax.tick_params(axis='x', length=3, pad=9, labelsize=8, colors='#333333')
    ax.tick_params(axis='y', length=3, pad=6, labelsize=8, colors='#333333', labelrotation=90)
    for lab in ax.get_yticklabels():
        lab.set_va('center')
    ax.text(0.965 if i != 0 else 0.855, 0.9, label, transform=ax.transAxes, ha='right', va='center',
            fontsize=14, family=['Lato', 'DejaVu Sans'], color='black')

# caption on the left
for j, line in enumerate(caption_title):
    fig.text(14 / W, 1 - (42 + 35.2 * j) / H, line, ha='left', va='center', fontsize=21,
             fontweight='bold', color='black')
for j, line in enumerate(caption_body):
    fig.text(14 / W, 1 - (113 + 35.2 * j) / H, line, ha='left', va='center', fontsize=21,
             color='black')

# group labels
for txt, yc in [("HbA1c (%)", 200), ("Fasting Glucose (mM)", 615), ("Fasting Insulin (uIU/mL)", 1015)]:
    fig.text(469 / W, 1 - yc / H, txt, rotation=90, ha='center', va='center', fontsize=19,
             family=['Lato', 'DejaVu Sans'], color='black')
fig.text(921 / W, 1 - 1247 / H, "Time (mo.)", ha='center', va='center', fontsize=19,
         family=['Lato', 'DejaVu Sans'], color='black')

fig.savefig('out.png', dpi=100)
